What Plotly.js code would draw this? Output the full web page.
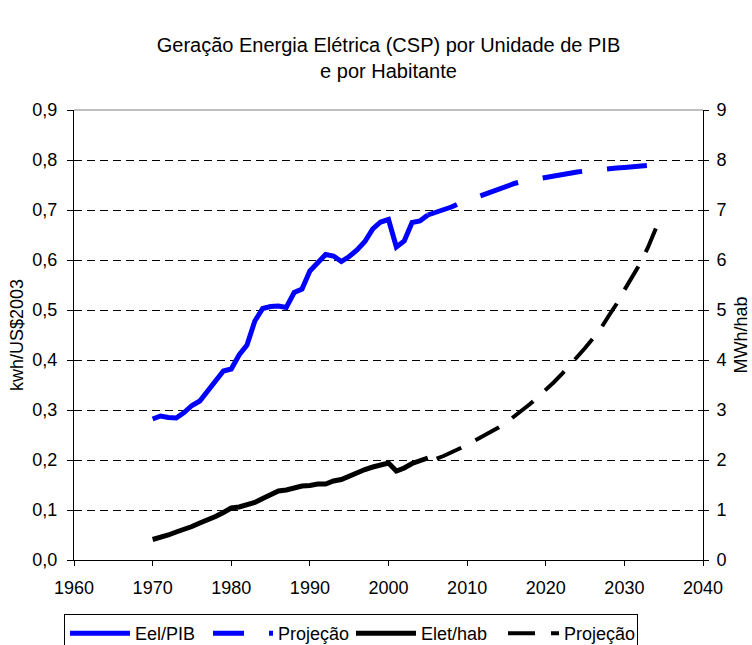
<!DOCTYPE html>
<html><head><meta charset="utf-8">
<script src="https://cdn.plot.ly/plotly-3.0.1.min.js"></script>
<style>html,body{margin:0;padding:0;background:#fff}</style>
</head><body>
<div id="chart" style="width:752px;height:645px"></div>
<script>
// Historical series
const histYears = [1970,1971,1972,1973,1974,1975,1976,1977,1978,1979,1980,1981,1982,1983,1984,1985,1986,1987,1988,1989,1990,1991,1992,1993,1994,1995,1996,1997,1998,1999,2000,2001,2002,2003,2004,2005];
const eelPib = [0.282,0.288,0.285,0.284,0.295,0.309,0.318,0.338,0.360,0.378,0.382,0.410,0.430,0.478,0.503,0.507,0.508,0.505,0.535,0.542,0.578,0.595,0.611,0.608,0.597,0.607,0.620,0.637,0.662,0.676,0.681,0.626,0.638,0.675,0.678,0.690];
const eletHab = [0.41,0.45,0.50,0.56,0.61,0.67,0.74,0.80,0.87,0.95,1.04,1.06,1.10,1.15,1.23,1.30,1.38,1.40,1.44,1.48,1.49,1.52,1.52,1.58,1.61,1.68,1.74,1.81,1.86,1.89,1.94,1.78,1.84,1.93,1.99,2.04];

// Projections
const projYearsPib = [2005,2006,2007,2008,2009,2010,2011,2012,2013,2014,2015,2016,2017,2018,2019,2020,2021,2022,2023,2024,2025,2026,2027,2028,2029,2030,2031,2032,2033];
const projPib = [0.690,0.695,0.700,0.706,0.713,0.719,0.725,0.731,0.737,0.743,0.749,0.753,0.757,0.760,0.762,0.765,0.768,0.771,0.774,0.776,0.778,0.780,0.781,0.782,0.784,0.785,0.786,0.788,0.789];
const projYearsHab = [2005,2006,2007,2008,2009,2010,2011,2012,2013,2014,2015,2016,2017,2018,2019,2020,2021,2022,2023,2024,2025,2026,2027,2028,2029,2030,2031,2032,2033,2034];
const projHab = [1.99,2.02,2.08,2.15,2.22,2.30,2.39,2.47,2.56,2.65,2.75,2.87,3.00,3.12,3.26,3.40,3.55,3.71,3.88,4.06,4.24,4.43,4.63,4.88,5.12,5.40,5.65,5.93,6.25,6.63];

// Labels
const titleText = 'Geração Energia Elétrica (CSP) por Unidade de PIB<br>e por Habitante';
const seriesNames = ['Eel/PIB', 'Projeção', 'Elet/hab', 'Projeção'];
const yLeftTitle = 'kwh/US$2003';
const yRightTitle = 'MWh/hab';

const FONT = 'Liberation Sans, Arial, sans-serif';
const blueDash = '31px,25px,40px,25px,40px,25px,40px,25px,40px,25px';
const blackDash = '0px,9px,27px,16px,27px,16px,27px,16px,27px,16px,27px,16px,27px,16px,27px,16px,27px,16px,27px,16px';

const traces = [
  {x: histYears, y: eelPib, name: seriesNames[0], type: 'scatter', mode: 'lines', line: {color: '#0000FF', width: 5}},
  {x: projYearsPib, y: projPib, name: seriesNames[1], type: 'scatter', mode: 'lines', line: {color: '#0000FF', width: 5, dash: blueDash}},
  {x: histYears, y: eletHab, name: seriesNames[2], type: 'scatter', mode: 'lines', yaxis: 'y2', line: {color: '#000000', width: 5}},
  {x: projYearsHab, y: projHab, name: seriesNames[3], type: 'scatter', mode: 'lines', yaxis: 'y2', line: {color: '#000000', width: 4, dash: blackDash}}
];

const axisFont = {family: FONT, size: 18, color: '#000'};

const layout = {
  width: 752, height: 645,
  margin: {l: 74, r: 49, t: 110, b: 85, autoexpand: false},
  paper_bgcolor: '#fff', plot_bgcolor: '#fff',
  separators: ', ',
  font: {family: FONT, color: '#000', size: 18},
  showlegend: true,
  title: {text: titleText, font: {family: FONT, size: 20, color: '#000'}, x: 0.5, xanchor: 'center', xref: 'paper', y: 0.919, yanchor: 'top', yref: 'container'},
  xaxis: {range: [1960, 2040], tick0: 1960, dtick: 10, ticks: 'outside', ticklen: 5, tickcolor: '#000', showline: true, linecolor: '#000', linewidth: 1, showgrid: false, zeroline: false, tickfont: axisFont, ticklabelstandoff: 6},
  yaxis: {range: [0, 0.9], tick0: 0, dtick: 0.1, tickformat: '.1f', ticks: 'outside', ticklen: 6, tickcolor: '#000', showline: true, linecolor: '#000', linewidth: 1, showgrid: true, gridcolor: '#000', gridwidth: 1, griddash: '8px,5px', zeroline: false, tickfont: axisFont, ticklabelstandoff: 6,
    title: {text: yLeftTitle, font: axisFont, standoff: 4}},
  yaxis2: {range: [0, 9], tick0: 0, dtick: 1, overlaying: 'y', side: 'right', ticks: 'outside', ticklen: 5, tickcolor: '#000', showline: true, linecolor: '#000', linewidth: 1, showgrid: false, zeroline: false, tickfont: axisFont, ticklabelstandoff: 4,
    title: {text: yRightTitle, font: axisFont, standoff: 8}},
  shapes: [{type: 'line', xref: 'paper', yref: 'paper', x0: 0, x1: 1, y0: 1, y1: 1, line: {color: '#808080', width: 1}}],
  legend: {orientation: 'h', x: -0.0159, xanchor: 'left', y: -0.12, yanchor: 'top', bordercolor: '#000', borderwidth: 1, bgcolor: '#fff', font: {family: FONT, size: 18, color: '#000'}, itemwidth: 60, entrywidth: 68, tracegroupgap: 0}
};

Plotly.newPlot('chart', traces, layout, {staticPlot: true, displayModeBar: false});
</script>
</body></html>
